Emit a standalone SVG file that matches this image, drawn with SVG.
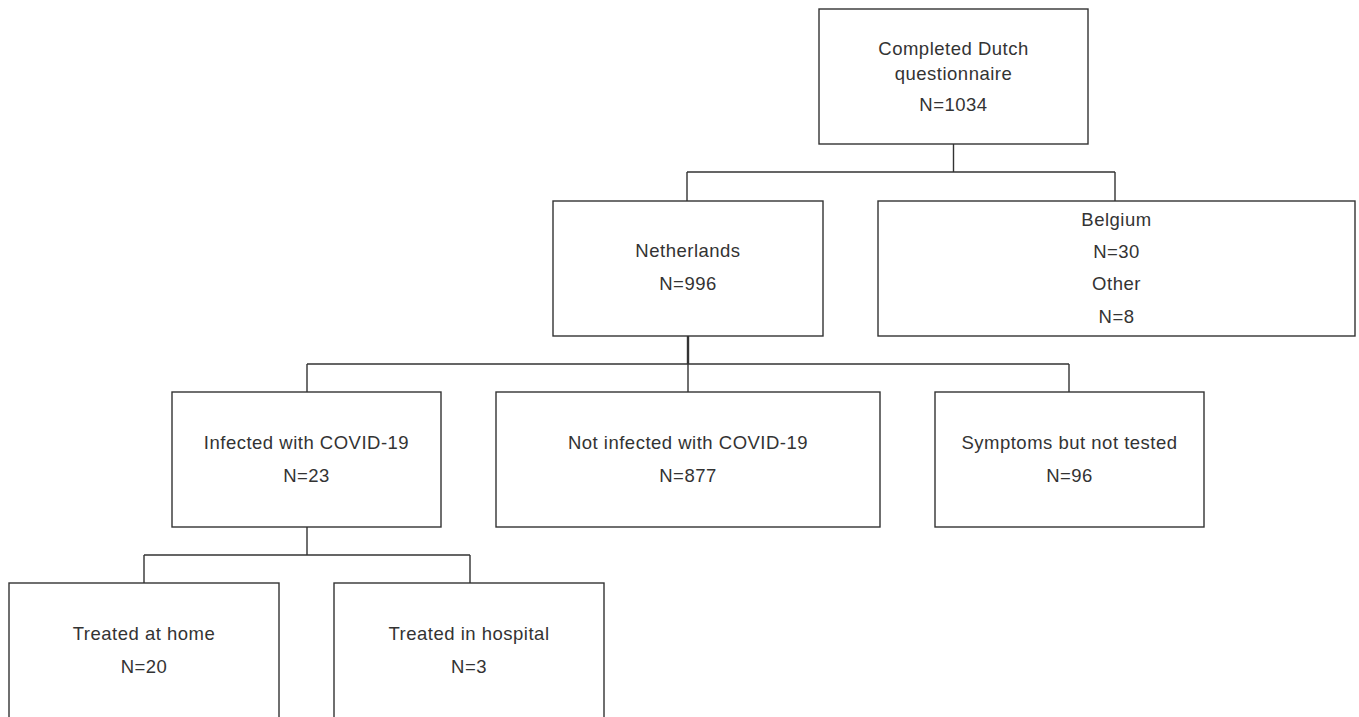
<svg xmlns="http://www.w3.org/2000/svg" width="1359" height="717" viewBox="0 0 1359 717">
<style>
.box{fill:#fff;stroke:#333;stroke-width:1.4}
.c{fill:none;stroke:#333;stroke-width:1.4}
text{font-family:"Liberation Sans",Arial,sans-serif;font-size:18.5px;fill:#333;text-anchor:middle;letter-spacing:0.5px}
</style>
<rect width="1359" height="717" fill="#fff"/>
<g id="connectors">
<path class="c" d="M953.5 144V172M687 172H1115M687 172V201M1115 172V201"/>
<path class="c" d="M688 336V392M307 364H1069M307 364V392M1069 364V392" />
<path class="c" d="M688 336V364" style="stroke-width:2.4"/>
<path class="c" d="M307 527V555M144 555H470M144 555V583M470 555V583"/>
</g>
<g id="n-completed">
<rect class="box" x="819" y="9" width="269" height="135"/>
<text x="953.5" y="55">Completed Dutch</text>
<text x="953.5" y="80">questionnaire</text>
<text x="953.5" y="111">N=1034</text>
</g>
<g id="n-netherlands">
<rect class="box" x="553" y="201" width="270" height="135"/>
<text x="688" y="257">Netherlands</text>
<text x="688" y="290">N=996</text>
</g>
<g id="n-belgium">
<rect class="box" x="878" y="201" width="477" height="135"/>
<text x="1116.5" y="226">Belgium</text>
<text x="1116.5" y="258">N=30</text>
<text x="1116.5" y="290">Other</text>
<text x="1116.5" y="323">N=8</text>
</g>
<g id="n-infected">
<rect class="box" x="172" y="392" width="269" height="135"/>
<text x="306.5" y="449">Infected with COVID-19</text>
<text x="306.5" y="482">N=23</text>
</g>
<g id="n-notinfected">
<rect class="box" x="496" y="392" width="384" height="135"/>
<text x="688" y="449">Not infected with COVID-19</text>
<text x="688" y="482">N=877</text>
</g>
<g id="n-symptoms">
<rect class="box" x="935" y="392" width="269" height="135"/>
<text x="1069.5" y="449">Symptoms but not tested</text>
<text x="1069.5" y="482">N=96</text>
</g>
<g id="n-home">
<rect class="box" x="9" y="583" width="270" height="150"/>
<text x="144" y="640">Treated at home</text>
<text x="144" y="673">N=20</text>
</g>
<g id="n-hospital">
<rect class="box" x="334" y="583" width="270" height="150"/>
<text x="469" y="640">Treated in hospital</text>
<text x="469" y="673">N=3</text>
</g>
</svg>
